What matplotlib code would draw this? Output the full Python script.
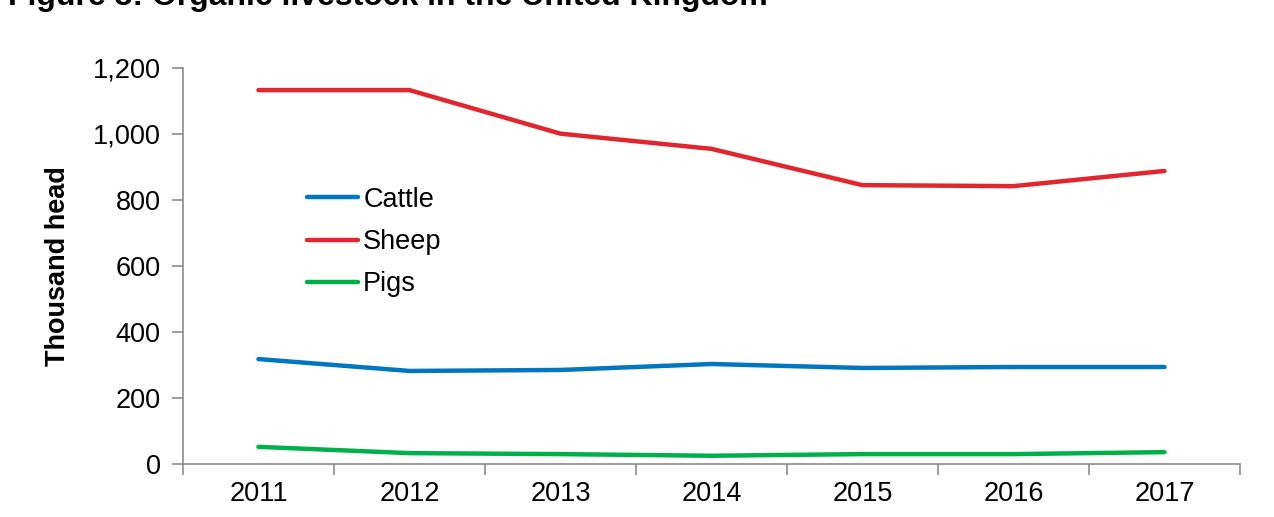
import matplotlib
matplotlib.use("Agg")
import matplotlib.pyplot as plt
from matplotlib.ticker import FuncFormatter

plt.rcParams['font.family'] = ['Liberation Sans', 'DejaVu Sans']

# Data (thousand head)
years = ['2011', '2012', '2013', '2014', '2015', '2016', '2017']
cattle = [318, 282, 285, 303, 291, 294, 294]
sheep = [1133, 1133, 1001, 955, 845, 842, 888]
pigs = [52, 33, 30, 25, 30, 30, 36]

fig = plt.figure(figsize=(12.74, 5.17), dpi=100)
ax = fig.add_axes([0.1436, 0.1025, 0.8297, 0.766])

x = range(len(years))
ax.plot(x, cattle, color='#0077C0', lw=3.2, label='Cattle', solid_capstyle='round')
ax.plot(x, sheep, color='#E1262D', lw=3.2, label='Sheep', solid_capstyle='round')
ax.plot(x, pigs, color='#00B04A', lw=3.2, label='Pigs', solid_capstyle='round')

ax.set_xlim(-0.5, len(years) - 0.5)
ax.set_ylim(0, 1200)
ax.set_yticks(range(0, 1201, 200))
ax.yaxis.set_major_formatter(FuncFormatter(lambda v, p: f'{int(v):,}'))
ax.set_xticks(list(x))
ax.set_xticklabels(years)
ax.set_xticks([i - 0.5 for i in range(len(years) + 1)], minor=True)

for s in ['top', 'right']:
    ax.spines[s].set_visible(False)
for s in ['left', 'bottom']:
    ax.spines[s].set_color('#8c8c8c')
    ax.spines[s].set_linewidth(1.2)

ax.tick_params(axis='x', which='major', length=0, pad=12, labelsize=19.5)
ax.tick_params(axis='x', which='minor', length=8, color='#8c8c8c', width=1.2)
ax.tick_params(axis='y', length=8, color='#8c8c8c', width=1.2, pad=8, labelsize=19.5)

ax.set_ylabel('Thousand head', fontsize=19.5, fontweight='bold', labelpad=16)

ax.legend(loc='upper left', bbox_to_anchor=(0.107, 0.727), frameon=False,
          fontsize=19.5, handlelength=1.9, handletextpad=0.18, labelspacing=0.6,
          borderaxespad=0)

fig.text(0.006, 0.99, 'Figure 3: Organic livestock in the United Kingdom',
         fontsize=23, fontweight='bold', va='baseline', ha='left')

fig.savefig('out.png', dpi=100)
